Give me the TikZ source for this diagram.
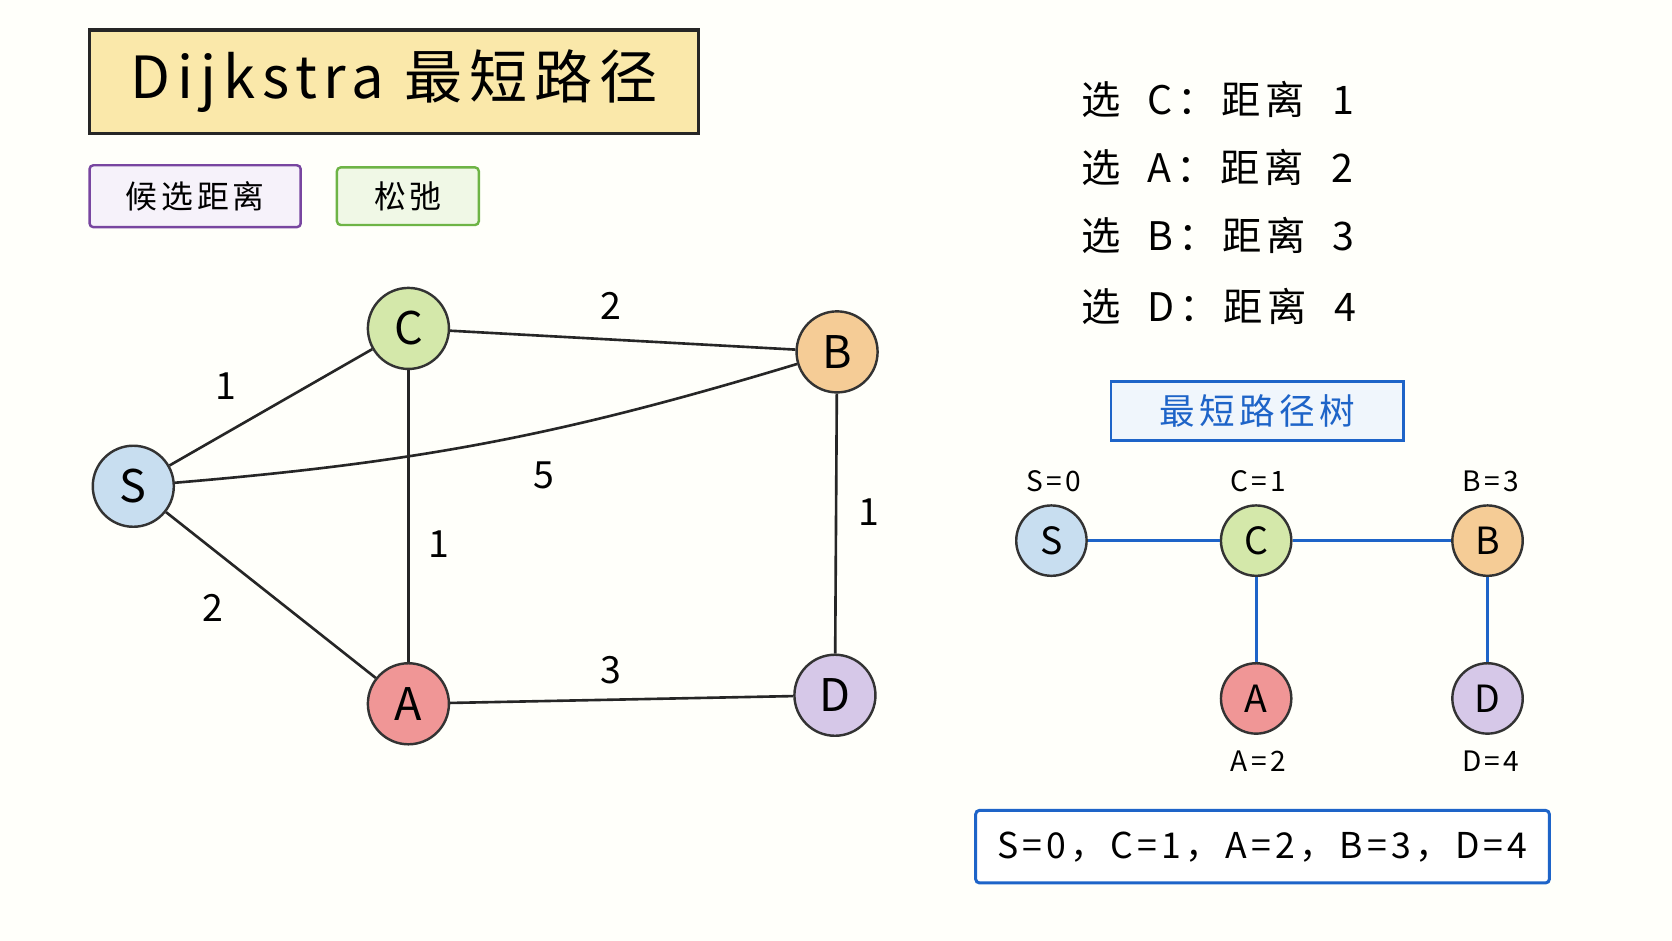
\documentclass[tikz,border=0pt]{standalone}
\usepackage{fontspec}
\setmainfont{Noto Sans CJK SC}
\newfontfamily\wide[LetterSpace=12]{Noto Sans CJK SC}
\begin{document}
\begin{tikzpicture}[x=0.02cm,y=-0.02cm,
 nd/.style={circle,draw=black!80,line width=1.3pt,minimum size=76*0.02cm,inner sep=0pt,font=\fontsize{24}{26}\selectfont},
 tn/.style={circle,draw=black!80,line width=1.3pt,minimum size=66*0.02cm,inner sep=0pt,font=\fontsize{20}{22}\selectfont},
 ed/.style={line width=1.4pt,black!85},
 te/.style={line width=1.6pt,draw={rgb,255:red,30;green,100;blue,200}},
 lb/.style={font=\fontsize{20}{22}\selectfont},
 sl/.style={font=\wide\fontsize{15}{17}\selectfont},
 tag/.style={draw,line width=1.3pt,rounded corners=2pt,font=\wide\fontsize{17}{19}\selectfont}]
\fill[white!98!yellow] (0,0) rectangle (1568,882);
\definecolor{cS}{RGB}{200,222,240}\definecolor{cC}{RGB}{212,232,170}
\definecolor{cB}{RGB}{245,204,150}\definecolor{cA}{RGB}{240,150,150}
\definecolor{cD}{RGB}{214,200,232}\definecolor{bl}{RGB}{30,100,200}
% title
\node[draw=black!85,line width=1.8pt,fill={rgb,255:red,250;green,232;blue,170},minimum width=571*0.02cm,minimum height=97*0.02cm,font=\wide\fontsize{31}{33}\selectfont] (title) at (369.5,76.5) {Dijkstra 最短路径};
\node[tag,draw={rgb,255:red,120;green,70;blue,160},fill={rgb,255:red,246;green,242;blue,250},minimum width=198*0.02cm,minimum height=58*0.02cm] (t1) at (183,184) {候选距离};
\node[tag,draw={rgb,255:red,110;green,180;blue,70},fill={rgb,255:red,240;green,248;blue,230},minimum width=133*0.02cm,minimum height=54*0.02cm] (t2) at (382.5,184) {松弛};
% graph
\node[nd,fill=cS] (S) at (125,456) {S};
\node[nd,fill=cC] (C) at (383,308) {C};
\node[nd,fill=cB] (B) at (785,330) {B};
\node[nd,fill=cA] (A) at (383,660) {A};
\node[nd,fill=cD] (D) at (783,652) {D};
\draw[ed] (S)--(C); \draw[ed] (C)--(B); \draw[ed] (C)--(A);
\draw[ed] (S)--(A); \draw[ed] (A)--(D); \draw[ed] (B)--(D);
\draw[ed] (S) to[bend right=6] (B);
\node[lb] (l1) at (212,362) {1};
\node[lb] (l2) at (573,287) {2};
\node[lb] (l3) at (510,446) {5};
\node[lb] (l4) at (412,510) {1};
\node[lb] (l5) at (815,480) {1};
\node[lb] (l6) at (200,570) {2};
\node[lb] (l7) at (573,628) {3};
% steps
\foreach \y/\n/\d [count=\i] in {93/C/1,157/A/2,221/B/3,287/D/4}
  \node[anchor=west,font=\wide\fontsize{21}{23}\selectfont] (s\i) at (1008,\y) {选\ \ \n：距离\ \ \d};
% tree
\node[draw=bl,line width=1.4pt,fill={rgb,255:red,240;green,246;blue,252},minimum width=274*0.02cm,minimum height=55*0.02cm,text=bl,font=\wide\fontsize{19}{21}\selectfont] (tt) at (1179,385.5) {最短路径树};
\node[tn,fill=cS] (tS) at (986,507) {S};
\node[tn,fill=cC] (tC) at (1178,507) {C};
\node[tn,fill=cB] (tB) at (1395,507) {B};
\node[tn,fill=cA] (tA) at (1178,655) {A};
\node[tn,fill=cD] (tD) at (1395,655) {D};
\draw[te] (tS)--(tC); \draw[te] (tC)--(tB); \draw[te] (tC)--(tA); \draw[te] (tB)--(tD);
\node[sl] (ls) at (988,451) {S=0};
\node[sl] (lc) at (1180,451) {C=1};
\node[sl] (lb) at (1398,451) {B=3};
\node[sl] (la) at (1180,714) {A=2};
\node[sl] (ld) at (1398,714) {D=4};
\node[draw=bl,line width=1.6pt,rounded corners=2pt,fill=white,minimum width=538*0.02cm,minimum height=68*0.02cm,font=\wide\fontsize{19}{21}\selectfont] (sum) at (1184,794) {S=0，C=1，A=2，B=3，D=4};
\end{tikzpicture}
\end{document}
